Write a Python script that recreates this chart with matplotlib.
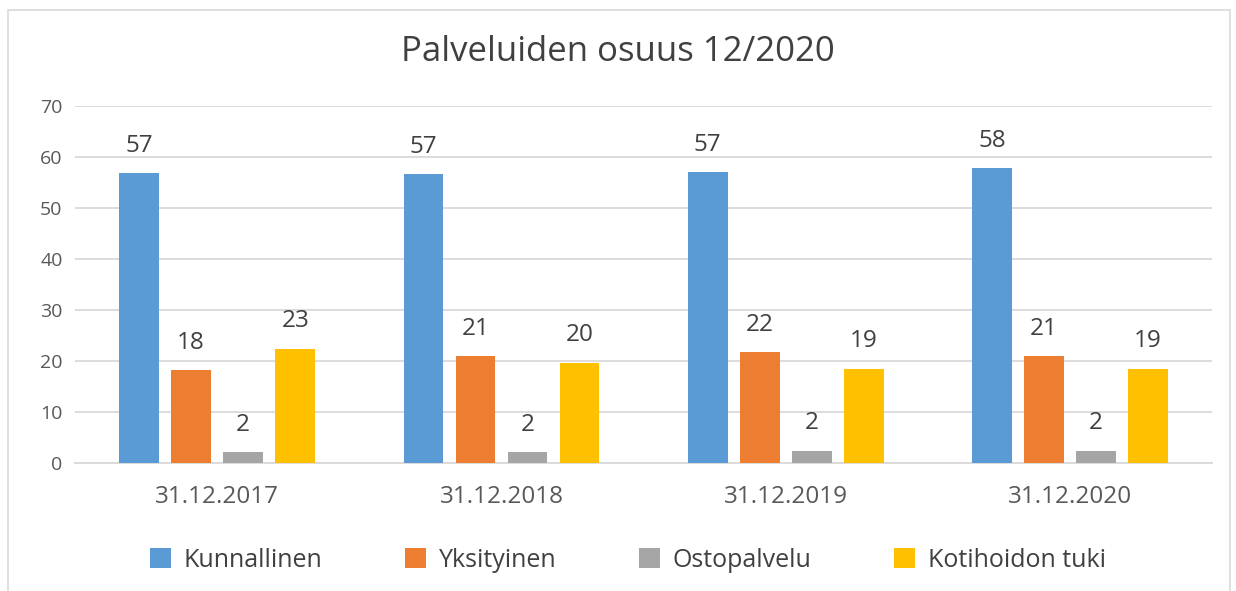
import matplotlib
matplotlib.use("Agg")
import matplotlib.pyplot as plt
import numpy as np
from matplotlib.patches import Rectangle

plt.rcParams['font.family'] = ['Open Sans', 'DejaVu Sans']

categories = ["31.12.2017", "31.12.2018", "31.12.2019", "31.12.2020"]
series_names = ["Kunnallinen", "Yksityinen", "Ostopalvelu", "Kotihoidon tuki"]
kunnallinen = [56.9, 56.6, 57.0, 57.8]
yksityinen = [18.2, 20.9, 21.7, 20.9]
ostopalvelu = [2.1, 2.1, 2.4, 2.4]
kotihoidon_tuki = [22.4, 19.7, 18.5, 18.5]
label_kunnallinen = ["57", "57", "57", "58"]
label_yksityinen = ["18", "21", "22", "21"]
label_ostopalvelu = ["2", "2", "2", "2"]
label_kotihoidon = ["23", "20", "19", "19"]
colors = ["#5B9BD5", "#ED7D31", "#A5A5A5", "#FFC000"]

series = [kunnallinen, yksityinen, ostopalvelu, kotihoidon_tuki]
labels = [label_kunnallinen, label_yksityinen, label_ostopalvelu, label_kotihoidon]

fig = plt.figure(figsize=(12.36, 5.91), dpi=100)
ax = fig.add_axes([0.0607, 0.2166, 0.92, 0.604])

x = np.arange(len(categories))
step = 0.183
width = 0.140
text_color = "#404040"
for i, (vals, labs, col, name) in enumerate(zip(series, labels, colors, series_names)):
    pos = x + (i - 1.5) * step
    bars = ax.bar(pos, vals, width=width, color=col, label=name, zorder=3)
    for b, lab in zip(bars, labs):
        ax.text(b.get_x() + b.get_width() / 2, b.get_height() + 3.0, lab,
                ha="center", va="bottom", fontsize=17.5, color=text_color)

ax.set_xlim(-0.5, 3.5)
ax.set_ylim(0, 70)
ax.set_yticks(range(0, 71, 10))
ax.grid(axis="y", color="#D9D9D9", linewidth=1.3, zorder=0)
for s in ["top", "right", "left"]:
    ax.spines[s].set_visible(False)
ax.spines["bottom"].set_color("#D9D9D9")
ax.spines["bottom"].set_linewidth(1.3)
ax.tick_params(axis="both", length=0, colors="#595959")
ax.tick_params(axis="y", labelsize=14, pad=9)
ax.set_xticks(x)
ax.set_xticklabels(categories, fontsize=17.5)
ax.tick_params(axis="x", pad=16)

fig.text(0.5, 0.912, "Palveluiden osuus 12/2020", ha="center", va="center",
         fontsize=25, color="#404040")

leg = fig.legend(loc="center", bbox_to_anchor=(0.508, 0.052), ncol=4, frameon=False,
                 fontsize=18, handlelength=0.85, handleheight=0.85,
                 columnspacing=3.3, handletextpad=0.5)
for t in leg.get_texts():
    t.set_color("#404040")

fig.patches.append(Rectangle((8 / 1236, -0.01), (1230 - 8) / 1236, 1 - 10 / 591 + 0.01,
                             transform=fig.transFigure, fill=False,
                             edgecolor="#D9D9D9", linewidth=1.2))

fig.savefig("out.png", dpi=100)
